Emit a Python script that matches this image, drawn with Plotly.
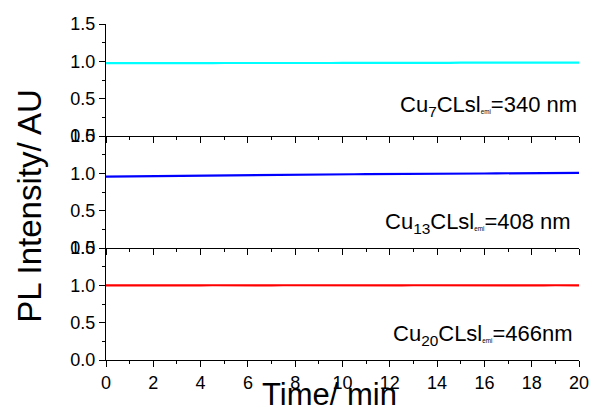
import plotly.graph_objects as go

# Time axis (min), sampled every 0.5 min
time_min = [i * 0.5 for i in range(41)]

# Normalised PL intensity of the three copper clusters
cu7_pl = [0.976, 0.975, 0.977, 0.975, 0.976, 0.977, 0.976, 0.975, 0.977, 0.976,
          0.978, 0.977, 0.976, 0.978, 0.977, 0.979, 0.978, 0.977, 0.979, 0.978,
          0.980, 0.979, 0.978, 0.980, 0.981, 0.979, 0.980, 0.982, 0.981, 0.980,
          0.982, 0.981, 0.983, 0.982, 0.981, 0.983, 0.982, 0.984, 0.983, 0.982,
          0.984]
cu13_pl = [0.955, 0.957, 0.958, 0.960, 0.962, 0.963, 0.966, 0.968, 0.970, 0.971,
           0.973, 0.975, 0.976, 0.978, 0.980, 0.981, 0.982, 0.983, 0.985, 0.985,
           0.986, 0.988, 0.989, 0.989, 0.990, 0.992, 0.993, 0.993, 0.994, 0.996,
           0.997, 0.997, 0.998, 1.000, 1.001, 1.001, 1.002, 1.003, 1.004, 1.004,
           1.005]
cu20_pl = [1.000, 0.999, 1.001, 1.000, 0.998, 1.000, 1.001, 0.999, 1.000, 1.001,
           0.999, 1.000, 1.002, 1.000, 0.999, 1.001, 1.000, 0.999, 1.000, 1.001,
           1.000, 0.999, 1.001, 1.000, 1.000, 0.999, 1.001, 1.000, 0.999, 1.000,
           1.001, 1.000, 0.999, 1.000, 1.001, 1.000, 0.999, 1.000, 1.001, 1.000,
           1.000]

x_ticks = list(range(0, 21, 2))
y_ticks = [0.0, 0.5, 1.0, 1.5]

labels = [
    "Cu<sub>7</sub>CLsl<span style='font-size:9px'><sub>emi</sub></span>=340 nm",
    "Cu<sub>13</sub>CLsl<span style='font-size:9px'><sub>emi</sub></span>=408 nm",
    "Cu<sub>20</sub>CLsl<span style='font-size:9px'><sub>emi</sub></span>=466nm",
]
label_pos = [(19.99, 0.40), (19.75, 0.34), (19.85, 0.34)]

series = [(cu7_pl, "#00FFFF"), (cu13_pl, "#0000FF"), (cu20_pl, "#FF0000")]

TICK_FONT = dict(family="Liberation Sans, Arial, sans-serif", size=18, color="black")
Y_TITLE_FONT = dict(family="Liberation Sans, Arial, sans-serif", size=33, color="black")
X_TITLE_FONT = dict(family="Liberation Sans, Arial, sans-serif", size=31, color="black")
LABEL_FONT = dict(family="Liberation Sans, Arial, sans-serif", size=22, color="black")

fig = go.Figure()
domains = [[2 / 3, 1.0], [1 / 3, 2 / 3], [0.0, 1 / 3]]

layout = dict(
    width=601, height=414,
    margin=dict(l=106, r=14, t=24, b=54),
    paper_bgcolor="white", plot_bgcolor="white",
    showlegend=False,
    annotations=[],
)

for i, ((vals, color), dom) in enumerate(zip(series, domains)):
    n = i + 1
    xa = "x" if n == 1 else f"x{n}"
    ya = "y" if n == 1 else f"y{n}"
    fig.add_trace(go.Scatter(x=time_min, y=vals, xaxis=xa, yaxis=ya, mode="lines",
                             line=dict(color=color, width=2.2)))
    # bottom axis of each panel
    layout["xaxis" if n == 1 else f"xaxis{n}"] = dict(
        range=[0, 20], anchor=ya, tickvals=x_ticks, ticks="outside", ticklen=6,
        tickwidth=1, tickcolor="black", showline=True, linecolor="black", linewidth=1,
        showgrid=False, zeroline=False, showticklabels=(n == 3), tickfont=TICK_FONT,
        minor=dict(dtick=1, ticks="outside", ticklen=3, tickcolor="black", showgrid=False),
    )
    # left axis of each panel
    layout["yaxis" if n == 1 else f"yaxis{n}"] = dict(
        domain=dom, range=[0, 1.5], anchor=xa, tickvals=y_ticks, tickformat=".1f",
        ticks="outside", ticklen=6, tickwidth=1, tickcolor="black", showline=True,
        linecolor="black", linewidth=1, showgrid=False, zeroline=False,
        tickfont=TICK_FONT,
        minor=dict(dtick=0.25, ticks="outside", ticklen=3, tickcolor="black", showgrid=False),
    )
    # right frame with inward ticks
    layout[f"yaxis{n + 3}"] = dict(
        domain=dom, range=[0, 1.5], overlaying=ya, side="right", anchor=xa,
        tickvals=y_ticks, ticks="inside", ticklen=4, tickcolor="black",
        showline=True, linecolor="black", linewidth=1, showgrid=False,
        zeroline=False, showticklabels=False,
        minor=dict(dtick=0.25, ticks="inside", ticklen=3, tickcolor="black", showgrid=False),
    )
    tx, ty = label_pos[i]
    layout["annotations"].append(dict(
        text=labels[i], x=tx, y=ty, xref=xa, yref=ya, xanchor="right", yanchor="middle",
        showarrow=False, font=LABEL_FONT,
    ))

# top frame of the upper panel with inward ticks
layout["xaxis4"] = dict(
    range=[0, 20], overlaying="x", side="top", anchor="y", tickvals=x_ticks,
    ticks="inside", ticklen=4, tickcolor="black", showline=True, linecolor="black",
    linewidth=1, showgrid=False, zeroline=False, showticklabels=False,
    minor=dict(dtick=1, ticks="inside", ticklen=3, tickcolor="black", showgrid=False),
)

layout["annotations"].append(dict(
    text="PL Intensity/ AU", x=-0.162, y=0.46, xref="paper", yref="paper",
    xanchor="center", yanchor="middle", textangle=-90, showarrow=False, font=Y_TITLE_FONT,
))
layout["annotations"].append(dict(
    text="Time/ min", x=0.472, y=-0.102, xref="paper", yref="paper",
    xanchor="center", yanchor="middle", showarrow=False, font=X_TITLE_FONT,
))

fig.update_layout(**layout)
fig.write_html("out.html")
